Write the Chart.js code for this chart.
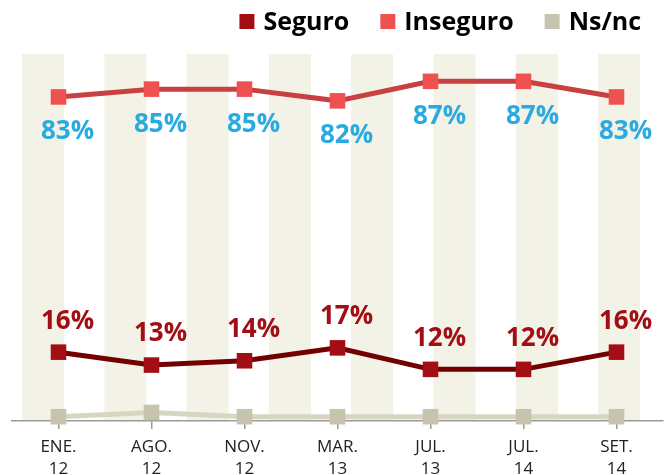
<!DOCTYPE html>
<html>
<head>
<meta charset="utf-8">
<script src="https://cdn.jsdelivr.net/npm/chart.js@4/dist/chart.umd.min.js"></script>
<style>
  html, body { margin: 0; padding: 0; background: #fff; overflow: hidden; }
  #wrap { width: 664px; height: 475px; position: relative; }
  canvas { display: block; }
</style>
</head>
<body>
<div id="wrap"><canvas id="chart"></canvas></div>
<script>
// Seguridad percibida - serie ENE.12 a SET.14
const periods = [['ENE.', '12'], ['AGO.', '12'], ['NOV.', '12'], ['MAR.', '13'], ['JUL.', '13'], ['JUL.', '14'], ['SET.', '14']];
const seguro = [16, 13, 14, 17, 12, 12, 16];
const inseguro = [83, 85, 85, 82, 87, 87, 83];
const nsnc = [1, 2, 1, 1, 1, 1, 1];

// background stripes behind the plot
const stripes = {
  id: 'stripes',
  beforeDraw(chart) {
    const { ctx, chartArea } = chart;
    ctx.save();
    ctx.fillStyle = '#f2f2e6';
    for (let i = 0; i < 8; i++) {
      const x = chartArea.left + 10 + i * 82.3;
      ctx.fillRect(x, chartArea.top, 42, chartArea.bottom - chartArea.top);
    }
    ctx.restore();
  }
};

// percentage labels next to the points
const valueLabels = {
  id: 'valueLabels',
  afterDatasetsDraw(chart) {
    const ctx = chart.ctx;
    chart.data.datasets.forEach(function(ds, i) {
      if (!ds.labelColor) return;
      const meta = chart.getDatasetMeta(i);
      ctx.save();
      ctx.font = 'bold 26px "Open Sans"';
      ctx.fillStyle = ds.labelColor;
      ctx.textAlign = 'center';
      ctx.textBaseline = 'middle';
      meta.data.forEach(function(pt, j) {
        ctx.fillText(ds.data[j] + '%', pt.x + 9, pt.y + ds.labelDy);
      });
      ctx.restore();
    });
  }
};

// legend drawn by hand, right aligned at the top
const topLegend = {
  id: 'topLegend',
  afterDraw(chart) {
    const ctx = chart.ctx;
    ctx.save();
    ctx.font = 'bold 25px "Open Sans"';
    ctx.textBaseline = 'middle';
    const items = chart.data.datasets.map(ds => ({ text: ds.label, color: ds.backgroundColor, w: ctx.measureText(ds.label).width }));
    const total = items.reduce((s, it) => s + 24 + it.w, 0) + 31 * (items.length - 1);
    let x = 641 - total;
    items.forEach(it => {
      ctx.fillStyle = it.color;
      ctx.fillRect(x, 14, 15, 15);
      ctx.fillStyle = '#000';
      ctx.fillText(it.text, x + 24, 23);
      x += 24 + it.w + 31;
    });
    ctx.restore();
  }
};

const ctx = document.getElementById('chart').getContext('2d');
const chart = new Chart(ctx, {
  type: 'line',
  data: {
    labels: periods,
    datasets: [{
      label: 'Seguro',
      data: seguro,
      yAxisID: 'y',
      borderColor: '#730000',
      backgroundColor: '#a30d14',
      pointBackgroundColor: '#a30d14',
      borderWidth: 5,
      pointStyle: 'rect',
      pointRadius: 11,
      pointBorderWidth: 0,
      labelColor: '#a30d14',
      labelDy: -31
    }, {
      label: 'Inseguro',
      data: inseguro,
      yAxisID: 'y2',
      borderColor: '#c8403f',
      backgroundColor: '#ef5050',
      pointBackgroundColor: '#ef5050',
      borderWidth: 5,
      pointStyle: 'rect',
      pointRadius: 11,
      pointBorderWidth: 0,
      labelColor: '#29abe2',
      labelDy: 35
    }, {
      label: 'Ns/nc',
      data: nsnc,
      yAxisID: 'y',
      borderColor: '#d8d6c2',
      backgroundColor: '#c6c4ae',
      pointBackgroundColor: '#c6c4ae',
      borderWidth: 5,
      pointStyle: 'rect',
      pointRadius: 11,
      pointBorderWidth: 0
    }]
  },
  options: {
    responsive: true,
    maintainAspectRatio: false,
    animation: false,
    clip: false,
    layout: { autoPadding: false, padding: { left: 12, right: 1, top: 54, bottom: 0 } },
    plugins: {
      legend: { display: false },
      tooltip: { enabled: false }
    },
    scales: {
      x: {
        offset: true,
        afterFit: function(scale) {
          scale.paddingLeft = 0;
          scale.paddingRight = 0;
          scale.height = 54;
        },
        border: { display: true, color: '#9a9a9a', width: 1.5 },
        grid: { drawOnChartArea: false, drawTicks: true, tickLength: 8, color: '#9a9a9a', lineWidth: 1.5 },
        ticks: {
          color: '#222',
          padding: 7,
          maxRotation: 0,
          font: { family: 'Open Sans', size: 17, lineHeight: 1.3 }
        }
      },
      y: { display: false, min: 0, max: 85.3 },
      y2: { display: false, min: 0, max: 94 }
    }
  },
  plugins: [stripes, valueLabels, topLegend]
});
</script>
</body>
</html>
